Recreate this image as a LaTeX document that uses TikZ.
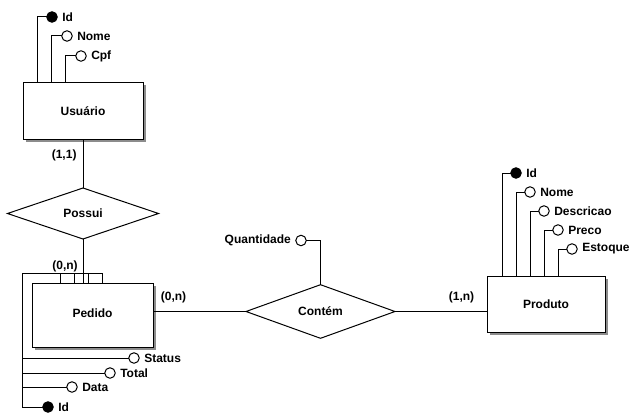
\documentclass[tikz,border=0pt]{standalone}
\usepackage{fontspec}
\setmainfont{Liberation Sans}
\usetikzlibrary{shapes.geometric,shadows,calc}
\begin{document}
\begin{tikzpicture}[x=1pt,y=-1pt,
  every node/.style={font=\fontsize{12}{14}\selectfont\bfseries},
  line width=1pt,
  ent/.style={draw, fill=white, rectangle, inner sep=0pt, outer sep=0pt,
    drop shadow={shadow xshift=2.5pt, shadow yshift=-2.5pt, fill=gray!90, opacity=1}},
  rel/.style={draw, fill=white, diamond, inner sep=0pt, outer sep=0pt},
  att/.style={draw, circle, fill=white, minimum size=10.5pt, inner sep=0pt, outer sep=0pt},
  key/.style={att, fill=black},
  lbl/.style={inner sep=2.5pt},
  albl/.style={inner xsep=4.5pt, inner ysep=2pt},
]
\useasboundingbox (0,0) rectangle (639,417);

% Usuario
\node[ent, minimum width=120pt, minimum height=56pt] (usu) at (83,111) {Usuário};
\node[key] (uid) at (52,17) {};
\node[att] (unome) at (67,36) {};
\node[att] (ucpf) at (81,56) {};
\node[albl, anchor=west] (luid) at (uid.east) {Id};
\node[albl, anchor=west] (lunome) at (unome.east) {Nome};
\node[albl, anchor=west] (lucpf) at (ucpf.east) {Cpf};
\draw (uid.west) -| ($(usu.north west)+(14,0)$);
\draw (unome.west) -| ($(usu.north west)+(28,0)$);
\draw (ucpf.west) -| ($(usu.north west)+(42,0)$);

% Possui
\node[rel, minimum width=151pt, minimum height=51pt] (pos) at (83,213.5) {Possui};
\draw (usu.south) -- (pos.north);
\node[lbl, anchor=east] (c11) at (79.5,155) {(1,1)};

% Pedido
\node[ent, minimum width=121pt, minimum height=64pt] (ped) at (92.5,315) {\raisebox{3.5pt}{Pedido}};
\draw (pos.south) -- (pos.south |- ped.north);
\node[lbl, anchor=south, inner sep=1pt] (c0n) at (65,273) {(0,n)};
\coordinate (pc) at (22,273);
\foreach \d in {28,42,56,70} \draw ($(ped.north west)+(\d,0)$) |- (pc);
\node[att] (pst) at (134,358) {};
\node[att] (pto) at (110,373) {};
\node[att] (pda) at (72,387) {};
\node[key] (pid) at (48,407) {};
\node[albl, anchor=west] (lpst) at (pst.east) {Status};
\node[albl, anchor=west] (lpto) at (pto.east) {Total};
\node[albl, anchor=west] (lpda) at (pda.east) {Data};
\node[albl, anchor=west] (lpid) at (pid.east) {Id};
\draw (pc) |- (pid.west);
\draw (pc |- pst) -- (pst.west);
\draw (pc |- pto) -- (pto.west);
\draw (pc |- pda) -- (pda.west);

% Contem
\node[rel, minimum width=149pt, minimum height=51pt] (con) at (320.5,311.5) {Contém};
\draw (con.west -| ped.east) -- (con.west);
\node[lbl] (c0n2) at (173.5,297) {(0,n)};
\node[att] (qua) at (301,240.5) {};
\node[albl, anchor=east] (lqua) at (qua.west) {Quantidade};
\draw (qua.east) -| (con.north);

% Produto
\node[ent, minimum width=118pt, minimum height=56pt] (pro) at (546,304) {Produto};
\draw (con.east) -- (con.east -| pro.west);
\node[lbl] (c1n) at (461.5,297) {(1,n)};
\node[key] (rid) at (516,173) {};
\node[att] (rnome) at (530,192) {};
\node[att] (rdes) at (544,211) {};
\node[att] (rpre) at (558,230) {};
\node[att] (rest) at (572,249) {};
\node[albl, anchor=west] (lrid) at (rid.east) {Id};
\node[albl, anchor=west] (lrnome) at (rnome.east) {Nome};
\node[albl, anchor=west] (lrdes) at (rdes.east) {Descricao};
\node[albl, anchor=west] (lrpre) at (rpre.east) {Preco};
\node[albl, anchor=west] (lrest) at (rest.east) {Estoque};
\draw (rid.west) -| ($(pro.north west)+(15,0)$);
\draw (rnome.west) -| ($(pro.north west)+(29,0)$);
\draw (rdes.west) -| ($(pro.north west)+(43,0)$);
\draw (rpre.west) -| ($(pro.north west)+(57,0)$);
\draw (rest.west) -| ($(pro.north west)+(71,0)$);
\end{tikzpicture}
\end{document}
